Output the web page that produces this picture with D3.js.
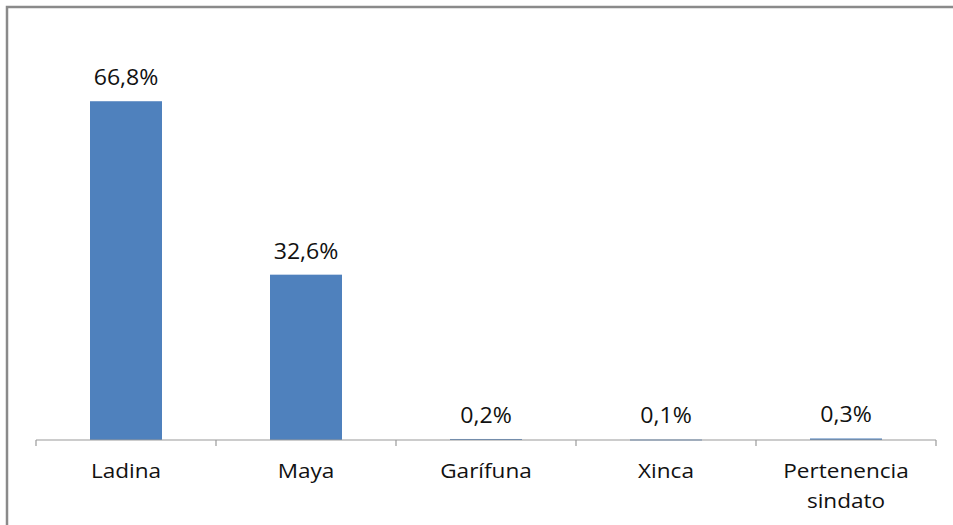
<!DOCTYPE html>
<html>
<head>
<meta charset="utf-8">
<script src="https://cdn.jsdelivr.net/npm/d3@7"></script>
<style>
  body { margin: 0; background: #fff; }
  text { font-family: "Open Sans", "Noto Sans", sans-serif; fill: #111; }
</style>
</head>
<body>
<div class="graph-pane"></div>
<script>
// data
const categories = ["Ladina", "Maya", "Garífuna", "Xinca", "Pertenencia sindato"];
const categoryLines = [["Ladina"], ["Maya"], ["Garífuna"], ["Xinca"], ["Pertenencia", "sindato"]];
const values = [66.8, 32.6, 0.2, 0.1, 0.3];
const valueLabels = ["66,8%", "32,6%", "0,2%", "0,1%", "0,3%"];

const width = 953, height = 525;
const stretch = 1.1; // the picture's text is a little wide

const svg = d3.select(".graph-pane")
  .append("svg")
  .attr("width", width)
  .attr("height", height);

// outer frame, runs off the right and bottom edge
svg.append("rect")
  .attr("x", 7).attr("y", 7)
  .attr("width", 980).attr("height", 560)
  .attr("fill", "none")
  .attr("stroke", "#8a8a8a")
  .attr("stroke-width", 2.5);

const x0 = d3.scaleBand().domain(categories).range([36, 936]);
const xBar = d3.scaleBand().domain(categories).range([36, 936])
  .paddingInner(0.6).paddingOuter(0.3);
const y = d3.scaleLinear().domain([0, 70]).range([440, 85]);

svg.selectAll(".bar")
  .data(values)
  .enter().append("rect")
  .attr("class", "bar")
  .attr("x", (d, i) => xBar(categories[i]))
  .attr("width", xBar.bandwidth())
  .attr("y", d => y(d))
  .attr("height", d => Math.max(1, y(0) - y(d)))
  .attr("fill", "#4f81bd");

// axis line and ticks between categories
const axis = svg.append("g").attr("stroke", "#9a9a9a").attr("stroke-width", 1.2);
axis.append("line")
  .attr("x1", x0.range()[0]).attr("x2", x0.range()[1])
  .attr("y1", y(0)).attr("y2", y(0));
const tickXs = categories.map(c => x0(c)).concat([x0.range()[1]]);
axis.selectAll(".tick")
  .data(tickXs)
  .enter().append("line")
  .attr("x1", d => d).attr("x2", d => d)
  .attr("y1", y(0)).attr("y2", y(0) + 6);

// value labels
svg.selectAll(".vlabel")
  .data(values)
  .enter().append("text")
  .attr("class", "vlabel")
  .attr("text-anchor", "middle")
  .attr("font-size", 21)
  .attr("transform", (d, i) =>
    "translate(" + (x0(categories[i]) + x0.bandwidth() / 2) + "," + (y(d) - 16) + ") scale(" + stretch + ",1)")
  .text((d, i) => valueLabels[i]);

// category labels
const cl = svg.selectAll(".clabel")
  .data(categoryLines)
  .enter().append("text")
  .attr("class", "clabel")
  .attr("text-anchor", "middle")
  .attr("font-size", 20.5)
  .attr("transform", (d, i) =>
    "translate(" + (x0(categories[i]) + x0.bandwidth() / 2) + ",478) scale(" + stretch + ",1)");
cl.selectAll("tspan")
  .data(d => d)
  .enter().append("tspan")
  .attr("x", 0)
  .attr("dy", (d, j) => j === 0 ? 0 : 30)
  .text(d => d);
</script>
</body>
</html>
